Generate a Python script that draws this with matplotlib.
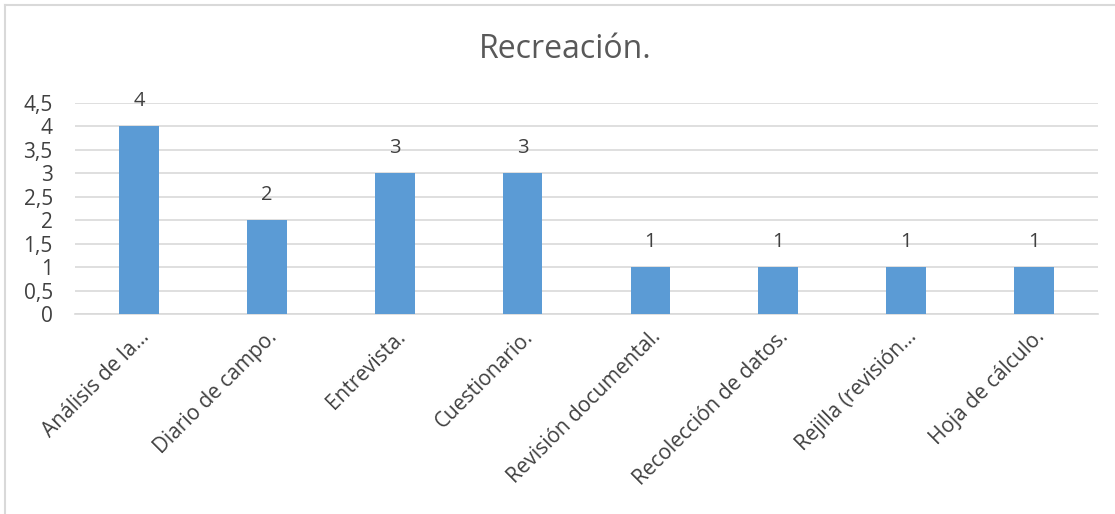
import matplotlib.pyplot as plt
import numpy as np

categorias = ['Análisis de la…', 'Diario de campo.', 'Entrevista.', 'Cuestionario.',
              'Revisión documental.', 'Recolección de datos.', 'Rejilla (revisión…', 'Hoja de cálculo.']
valores = [4, 2, 3, 3, 1, 1, 1, 1]
yticks = [0, 0.5, 1, 1.5, 2, 2.5, 3, 3.5, 4, 4.5]

plt.rcParams['font.family'] = ['Open Sans', 'DejaVu Sans']

fig = plt.figure(figsize=(11.15, 5.14), dpi=100)
ax = fig.add_axes([75 / 1115, 1 - 314 / 514, (1098 - 75) / 1115, (314 - 103) / 514])

x = np.arange(len(categorias))
ax.bar(x, valores, width=0.31, color='#5B9BD5', zorder=3)

for xi, v in zip(x, valores):
    ax.annotate(str(v), (xi, v), xytext=(0, 11), textcoords='offset points',
                ha='center', va='bottom', fontsize=14.5, color='#404040')

ax.set_xlim(-0.5, len(categorias) - 0.5)
ax.set_ylim(0, 4.5)
ax.set_yticks(yticks)
ax.set_yticklabels([str(t).replace('.', ',').replace(',0', '') for t in yticks])
ax.yaxis.grid(True, color='#d9d9d9', linewidth=1.2, zorder=0)
ax.set_xticks(x)
ax.set_xticklabels(categorias, rotation=45, ha='right', rotation_mode='anchor')
ax.tick_params(axis='both', length=0, labelsize=15, colors='#404040')
ax.tick_params(axis='x', pad=9)
ax.tick_params(axis='y', pad=16)
for s in ['top', 'right', 'left']:
    ax.spines[s].set_visible(False)
ax.spines['bottom'].set_color('#d9d9d9')
ax.spines['bottom'].set_linewidth(1.2)

fig.text(565 / 1115, 1 - 50 / 514, 'Recreación.', ha='center', va='center',
         fontsize=23, color='#595959')

# borde del gráfico (solo izquierda y arriba visibles)
fig.add_artist(plt.Line2D([5 / 1115, 5 / 1115], [0, 1 - 5 / 514], color='#d9d9d9', linewidth=1.5))
fig.add_artist(plt.Line2D([5 / 1115, 1], [1 - 5 / 514, 1 - 5 / 514], color='#d9d9d9', linewidth=1.5))

fig.savefig('out.png', dpi=100, facecolor='white')
